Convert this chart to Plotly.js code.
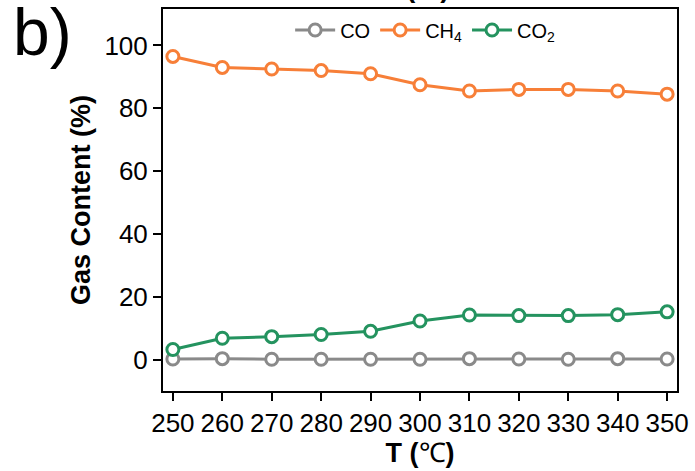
<!DOCTYPE html>
<html>
<head>
<meta charset="utf-8">
<script src="https://cdn.plot.ly/plotly-3.0.1.min.js"></script>
<style>html,body{margin:0;padding:0;background:#fff;}#chart{width:695px;height:471px;}</style>
</head>
<body>
<div id="chart"></div>
<script>
const temperatures = [250, 260, 270, 280, 290, 300, 310, 320, 330, 340, 350];
const coValues  = [0.2, 0.3, 0.1, 0.1, 0.1, 0.1, 0.3, 0.2, 0.1, 0.3, 0.2];
const ch4Values = [96.5, 93.0, 92.5, 92.0, 91.0, 87.5, 85.5, 86.0, 86.0, 85.5, 84.5];
const co2Values = [3.2, 6.8, 7.3, 8.0, 9.0, 12.3, 14.2, 14.0, 14.0, 14.3, 15.2];
const seriesNames = ['CO', 'CH<sub>4</sub>', 'CO<sub>2</sub>'];
const yTicks = [0, 20, 40, 60, 80, 100];

const colors = ['#8a8a8a', '#f77f38', '#24935f'];
const allValues = [coValues, ch4Values, co2Values];

const traces = allValues.map((vals, i) => ({
  x: temperatures,
  y: vals,
  name: seriesNames[i],
  type: 'scatter',
  mode: 'lines+markers',
  line: {color: colors[i], width: 3},
  marker: {symbol: 'circle', size: 12, color: '#ffffff', line: {color: colors[i], width: 3}}
}));

const font = 'Arial, "Liberation Sans", sans-serif';

const layout = {
  width: 695, height: 471,
  margin: {l: 163, r: 18, t: 9, b: 80},
  paper_bgcolor: '#ffffff', plot_bgcolor: '#ffffff',
  font: {family: font, color: '#000'},
  showlegend: true,
  legend: {
    orientation: 'h', x: 0.51, xanchor: 'center', y: 0.945, yanchor: 'middle',
    font: {family: font, size: 20, color: '#000'}, bgcolor: 'rgba(0,0,0,0)',
    tracegroupgap: 0, itemwidth: 40
  },
  xaxis: {
    range: [248, 352], tickvals: temperatures, ticktext: temperatures.map(String),
    tickangle: 0,
    ticks: 'outside', ticklen: 8, tickwidth: 2, tickcolor: '#000',
    showline: true, mirror: true, linewidth: 2, linecolor: '#000',
    showgrid: false, zeroline: false,
    tickfont: {family: font, size: 26, color: '#000'},
    title: {text: '<b>T</b> <b>(</b>℃<b>)</b>', font: {family: font, size: 27, color: '#000'}, standoff: 6}
  },
  yaxis: {
    range: [-10, 111.6], tickvals: yTicks,
    ticks: 'outside', ticklen: 8, tickwidth: 2, tickcolor: '#000',
    showline: true, mirror: true, linewidth: 2, linecolor: '#000',
    showgrid: false, zeroline: false,
    tickfont: {family: font, size: 26, color: '#000'},
    title: {text: '<b>Gas Content (%)</b>', font: {family: font, size: 27, color: '#000'}, standoff: 6}
  },
  annotations: [
    {text: 'b)', xref: 'paper', yref: 'paper', x: -0.235, y: 1.0, xanchor: 'center', yanchor: 'middle',
     yshift: -23, showarrow: false, font: {family: font, size: 66, color: '#000'}},
    {text: '<b>(%)</b>', xref: 'paper', yref: 'paper', x: 0.515, y: 1.0, xanchor: 'center', yanchor: 'bottom',
     yshift: 4, showarrow: false, font: {family: font, size: 28, color: '#000'}}
  ]
};

Plotly.newPlot('chart', traces, layout, {displayModeBar: false, staticPlot: true});
</script>
</body>
</html>
